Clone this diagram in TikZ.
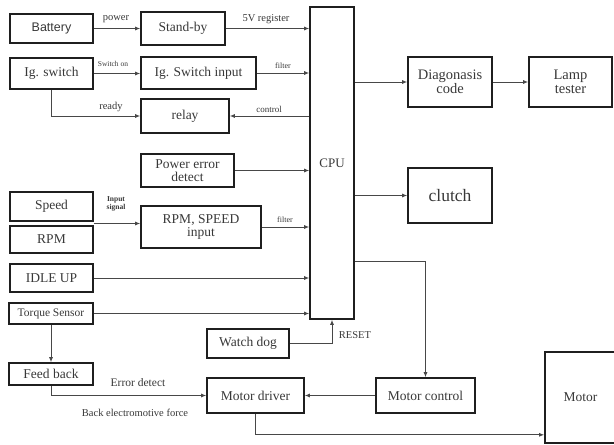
\documentclass[tikz,border=0pt]{standalone}
\usepackage{fontspec}
\setmainfont{Liberation Serif}
\newfontfamily\timesfont{Liberation Serif}
\newfontfamily\arialfont{Liberation Sans}
\usepackage{tikz}
\usetikzlibrary{arrows.meta,calc}
\newcommand{\fs}[1]{\timesfont\fontsize{#1}{#1}\selectfont}

\begin{document}
\begin{tikzpicture}[x=1pt,y=-1pt,>={Latex[length=5pt,width=4pt]},every node/.style={align=center,text=black!78,font=\fs{13.5}},box/.style={draw=black!88,line width=1.6pt,inner sep=1pt},lbl/.style={inner sep=0pt,font=\fs{10.5}},con/.style={->,draw=black!72,line width=0.9pt}]
\useasboundingbox (0,0) rectangle (614,445);
\node[box,minimum width=83pt,minimum height=29pt,font=\fs{12.5}\arialfont] (bat) at (51.5,28.5) {Battery};
\node[box,minimum width=84pt,minimum height=33pt] (stb) at (183,28.5) {Stand-by};
\node[box,minimum width=83pt,minimum height=31pt] (igs) at (51.5,73.5) {Ig. switch};
\node[box,minimum width=115pt,minimum height=32pt] (igi) at (198.5,73) {Ig. Switch input};
\node[box,minimum width=88pt,minimum height=34pt] (rly) at (185,116) {relay};
\node[box,minimum width=44pt,minimum height=312pt,font=\fs{13}] (cpu) at (332,163) {CPU};
\node[box,minimum width=84pt,minimum height=50pt,font=\fs{14.5}] (dia) at (450,82) {Diagonasis\\code};
\node[box,minimum width=83pt,minimum height=50pt,font=\fs{14.5}] (lmp) at (570.5,82) {Lamp\\tester};
\node[box,minimum width=93pt,minimum height=33pt] (ped) at (187.5,170.5) {Power error\\detect};
\node[box,minimum width=84pt,minimum height=55pt,font=\fs{17.5}] (clu) at (450,195.5) {clutch};
\node[box,minimum width=83pt,minimum height=29pt] (spd) at (51.5,206.5) {Speed};
\node[box,minimum width=83pt,minimum height=27pt] (rpm) at (51.5,239.5) {RPM};
\node[box,minimum width=120pt,minimum height=42pt] (rsi) at (201,227) {RPM, SPEED\\input};
\node[box,minimum width=83pt,minimum height=28pt] (idl) at (51.5,278) {IDLE UP};
\node[box,minimum width=84pt,minimum height=21pt,font=\fs{11.5}] (trq) at (51,313.5) {Torque Sensor};
\node[box,minimum width=82pt,minimum height=29pt] (wdg) at (248,343.5) {Watch dog};
\node[box,minimum width=84pt,minimum height=22pt] (fdb) at (51,374) {Feed back};
\node[box,minimum width=97pt,minimum height=35pt] (mdr) at (255.5,395.5) {Motor driver};
\node[box,minimum width=99pt,minimum height=35pt] (mct) at (425.5,395.5) {Motor control};
\node[box,minimum width=71pt,minimum height=91pt] (mot) at (580.5,397.5) {Motor};
\coordinate (sr) at ($(spd.south east)!0.5!(rpm.north east)$);
\coordinate (cpo) at ($(cpu.east)+(0,98)$);
\coordinate (mtin) at ($(mot.south west)+(0,-9)$);
\draw[con] (bat.east) -- (stb.west);
\draw[con] (stb.east) -- (stb.east -| cpu.west);
\draw[con] (igs.east) -- (igs.east -| igi.west);
\draw[con] (igi.east) -- (igi.east -| cpu.west);
\draw[con] (igs.south) |- (rly.west);
\draw[con] (rly.east -| cpu.west) -- (rly.east);
\draw[con] (dia.west -| cpu.east) -- (dia.west);
\draw[con] (dia.east) -- (lmp.west);
\draw[con] (ped.east) -- (ped.east -| cpu.west);
\draw[con] (clu.west -| cpu.east) -- (clu.west);
\draw[con] (sr) -- (sr -| rsi.west);
\draw[con] (rsi.east) -- (rsi.east -| cpu.west);
\draw[con] (idl.east) -- (idl.east -| cpu.west);
\draw[con] (trq.east) -- (trq.east -| cpu.west);
\draw[con] (trq.south) -- (fdb.north);
\draw[con] (wdg.east) -| (cpu.south);
\draw[con] (cpo) -| (mct.north);
\draw[con] (mct.west) -- (mdr.east);
\draw[con] (fdb.south) |- (mdr.west);
\draw[con] (mdr.south) |- (mtin);
\node[lbl] (lpow) at (116,19) {power};
\node[lbl] (l5v) at (266,19) {5V register};
\node[lbl,font=\fs{7.5}] (lswo) at (113,63.5) {Switch on};
\node[lbl,font=\fs{8}] (lfil1) at (283,66) {filter};
\node[lbl] (lrdy) at (111,107) {ready};
\node[lbl,font=\fs{9}] (lctl) at (269,109) {control};
\node[lbl,font=\fs{7.5}\bfseries] (linp) at (116,204) {Input\\signal};
\node[lbl,font=\fs{8}] (lfil2) at (285,220) {filter};
\node[lbl] (lrst) at (355,335) {RESET};
\node[lbl,font=\fs{11.5}] (lerr) at (138,383) {Error detect};
\node[lbl] (lbem) at (135,413) {Back electromotive force};
\end{tikzpicture}
\end{document}
